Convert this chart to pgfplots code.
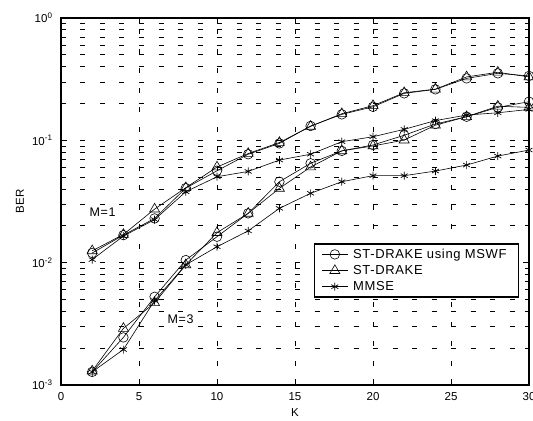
\documentclass[border=0pt]{standalone}
\usepackage{fontspec}
\setmainfont{Liberation Sans}
\newfontfamily\lsfont[LetterSpace=5]{Liberation Sans}
\usepackage{pgfplots}
\pgfplotsset{compat=1.18}
\begin{document}
\begin{tikzpicture}
\begin{axis}[
  scale only axis, width=468bp, height=367bp,
  ymode=log, xmin=0, xmax=30, ymin=1e-3, ymax=1,
  xtick={0,5,10,15,20,25,30},
  xticklabels={0,5,10,15,20,25,30},
  ytick={1e-3,1e-2,1e-1,1},
  yticklabels={10\textsuperscript{-3},10\textsuperscript{-2},10\textsuperscript{-1},10\textsuperscript{0}},
  tick align=inside, ticks=both,
  xtick pos=both, ytick pos=both,
  major tick length=6bp, minor tick length=4bp,
  every tick/.style={black, line width=0.8bp},
  axis line style={line width=1.4bp},
  xmajorgrids, ymajorgrids, yminorgrids,
  major grid style={black, line width=0.8bp, dash pattern=on 5bp off 14.5bp},
  minor grid style={black, line width=0.8bp, dash pattern=on 5bp off 14.5bp},
  tick label style={font=\fontsize{11.5bp}{13bp}\selectfont},
  xticklabel style={yshift=-4bp},
  yticklabel style={xshift=-5bp},
  xlabel={K}, ylabel={BER},
  label style={font=\fontsize{11.5bp}{13bp}\selectfont},
  xlabel style={at={(axis description cs:0.5,-0.0763)}, anchor=center},
  ylabel style={at={(axis description cs:-0.0876,0.5)}, anchor=center},
  legend style={at={(0.979,0.386)}, anchor=north east, draw=black, line width=1.2bp,
    font=\lsfont\fontsize{13bp}{15bp}\selectfont, inner xsep=7bp, inner ysep=3bp,
    row sep=1.5bp, cells={anchor=west}, nodes={inner xsep=5bp}},
  legend image code/.code={\draw[mark repeat=2,mark phase=2,#1] plot coordinates {(0bp,0bp) (13bp,0bp) (26bp,0bp)};},
]
\coordinate (bl) at (rel axis cs:0,0);
\coordinate (tr) at (rel axis cs:1,1);
% M=3
\addplot[black, line width=0.6bp, mark=o, mark size=4.8bp, mark options={solid, line width=0.6bp}] coordinates {
(2,0.00128)(4,0.00245)(6,0.00526)(8,0.0105)(10,0.0163)(12,0.0253)(14,0.0459)(16,0.0649)(18,0.082)(20,0.0916)(22,0.110)(24,0.136)(26,0.156)(28,0.186)(30,0.207)};
\addlegendentry{ST-DRAKE using MSWF}
\addplot[black, line width=0.6bp, mark=triangle, mark size=5.8bp, mark options={solid, line width=0.6bp}] coordinates {
(2,0.0013)(4,0.0029)(6,0.0047)(8,0.0096)(10,0.0176)(12,0.0253)(14,0.0405)(16,0.0605)(18,0.082)(20,0.090)(22,0.1005)(24,0.133)(26,0.156)(28,0.19)(30,0.186)};
\addlegendentry{ST-DRAKE}
\addplot[black, line width=0.6bp, mark=asterisk, mark size=4bp, mark options={solid, line width=0.7bp}] coordinates {
(2,0.00128)(4,0.00195)(6,0.0049)(8,0.0096)(10,0.0135)(12,0.0182)(14,0.0278)(16,0.0369)(18,0.0459)(20,0.0514)(22,0.0514)(24,0.0561)(26,0.0628)(28,0.0744)(30,0.0833)};
\addlegendentry{MMSE}
% M=1
\addplot[forget plot, black, line width=0.6bp, mark=o, mark size=4.8bp, mark options={solid, line width=0.6bp}] coordinates {
(2,0.012)(4,0.0168)(6,0.023)(8,0.0407)(10,0.0564)(12,0.077)(14,0.0944)(16,0.131)(18,0.163)(20,0.188)(22,0.242)(24,0.261)(26,0.321)(28,0.353)(30,0.336)};
\addplot[forget plot, black, line width=0.6bp, mark=triangle, mark size=5.8bp, mark options={solid, line width=0.6bp}] coordinates {
(2,0.0125)(4,0.017)(6,0.0274)(8,0.041)(10,0.0605)(12,0.078)(14,0.096)(16,0.13)(18,0.165)(20,0.192)(22,0.245)(24,0.262)(26,0.33)(28,0.36)(30,0.33)};
\addplot[forget plot, black, line width=0.6bp, mark=asterisk, mark size=4bp, mark options={solid, line width=0.7bp}] coordinates {
(2,0.0106)(4,0.0165)(6,0.0225)(8,0.038)(10,0.0504)(12,0.0557)(14,0.069)(16,0.077)(18,0.0975)(20,0.107)(22,0.123)(24,0.145)(26,0.161)(28,0.168)(30,0.179)};
\node[font=\lsfont\fontsize{12.5bp}{14bp}\selectfont] at (axis cs:2.66,0.0257) {M=1};
\node[font=\lsfont\fontsize{12.5bp}{14bp}\selectfont] at (axis cs:7.66,0.00343) {M=3};
\end{axis}
\pgfresetboundingbox
\path[use as bounding box] ([xshift=-61bp,yshift=-36bp]bl) rectangle ([xshift=4bp,yshift=18bp]tr);
\end{tikzpicture}
\end{document}
